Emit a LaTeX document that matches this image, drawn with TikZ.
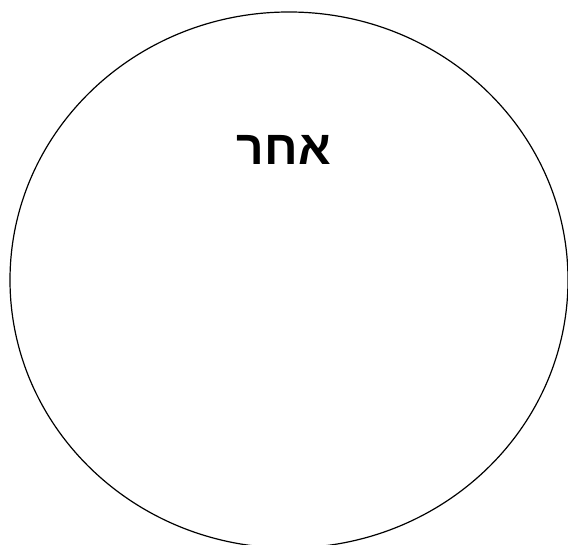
\documentclass[tikz,border=0pt]{standalone}
\usepackage{fontspec}
\usetikzlibrary{shapes.geometric}
\newfontfamily\hebfont[Script=Hebrew]{Liberation Sans}
\TeXXeTstate=1
\tikzset{
  oval/.style={draw=black, line width=1.2pt, ellipse, inner sep=0pt},
  heblabel/.style={font=\hebfont\bfseries\fontsize{48}{48}\selectfont, inner sep=0pt}
}
\begin{document}
\begin{tikzpicture}[x=1pt,y=1pt]
\useasboundingbox (0,0) rectangle (568,545);
\clip (0,0) rectangle (568,545);
\node[oval, minimum width=558pt, minimum height=536pt] (circ) at (289,265) {};
\node[heblabel] (word) at (284,395) {\beginR אחר\endR};
\end{tikzpicture}
\end{document}
